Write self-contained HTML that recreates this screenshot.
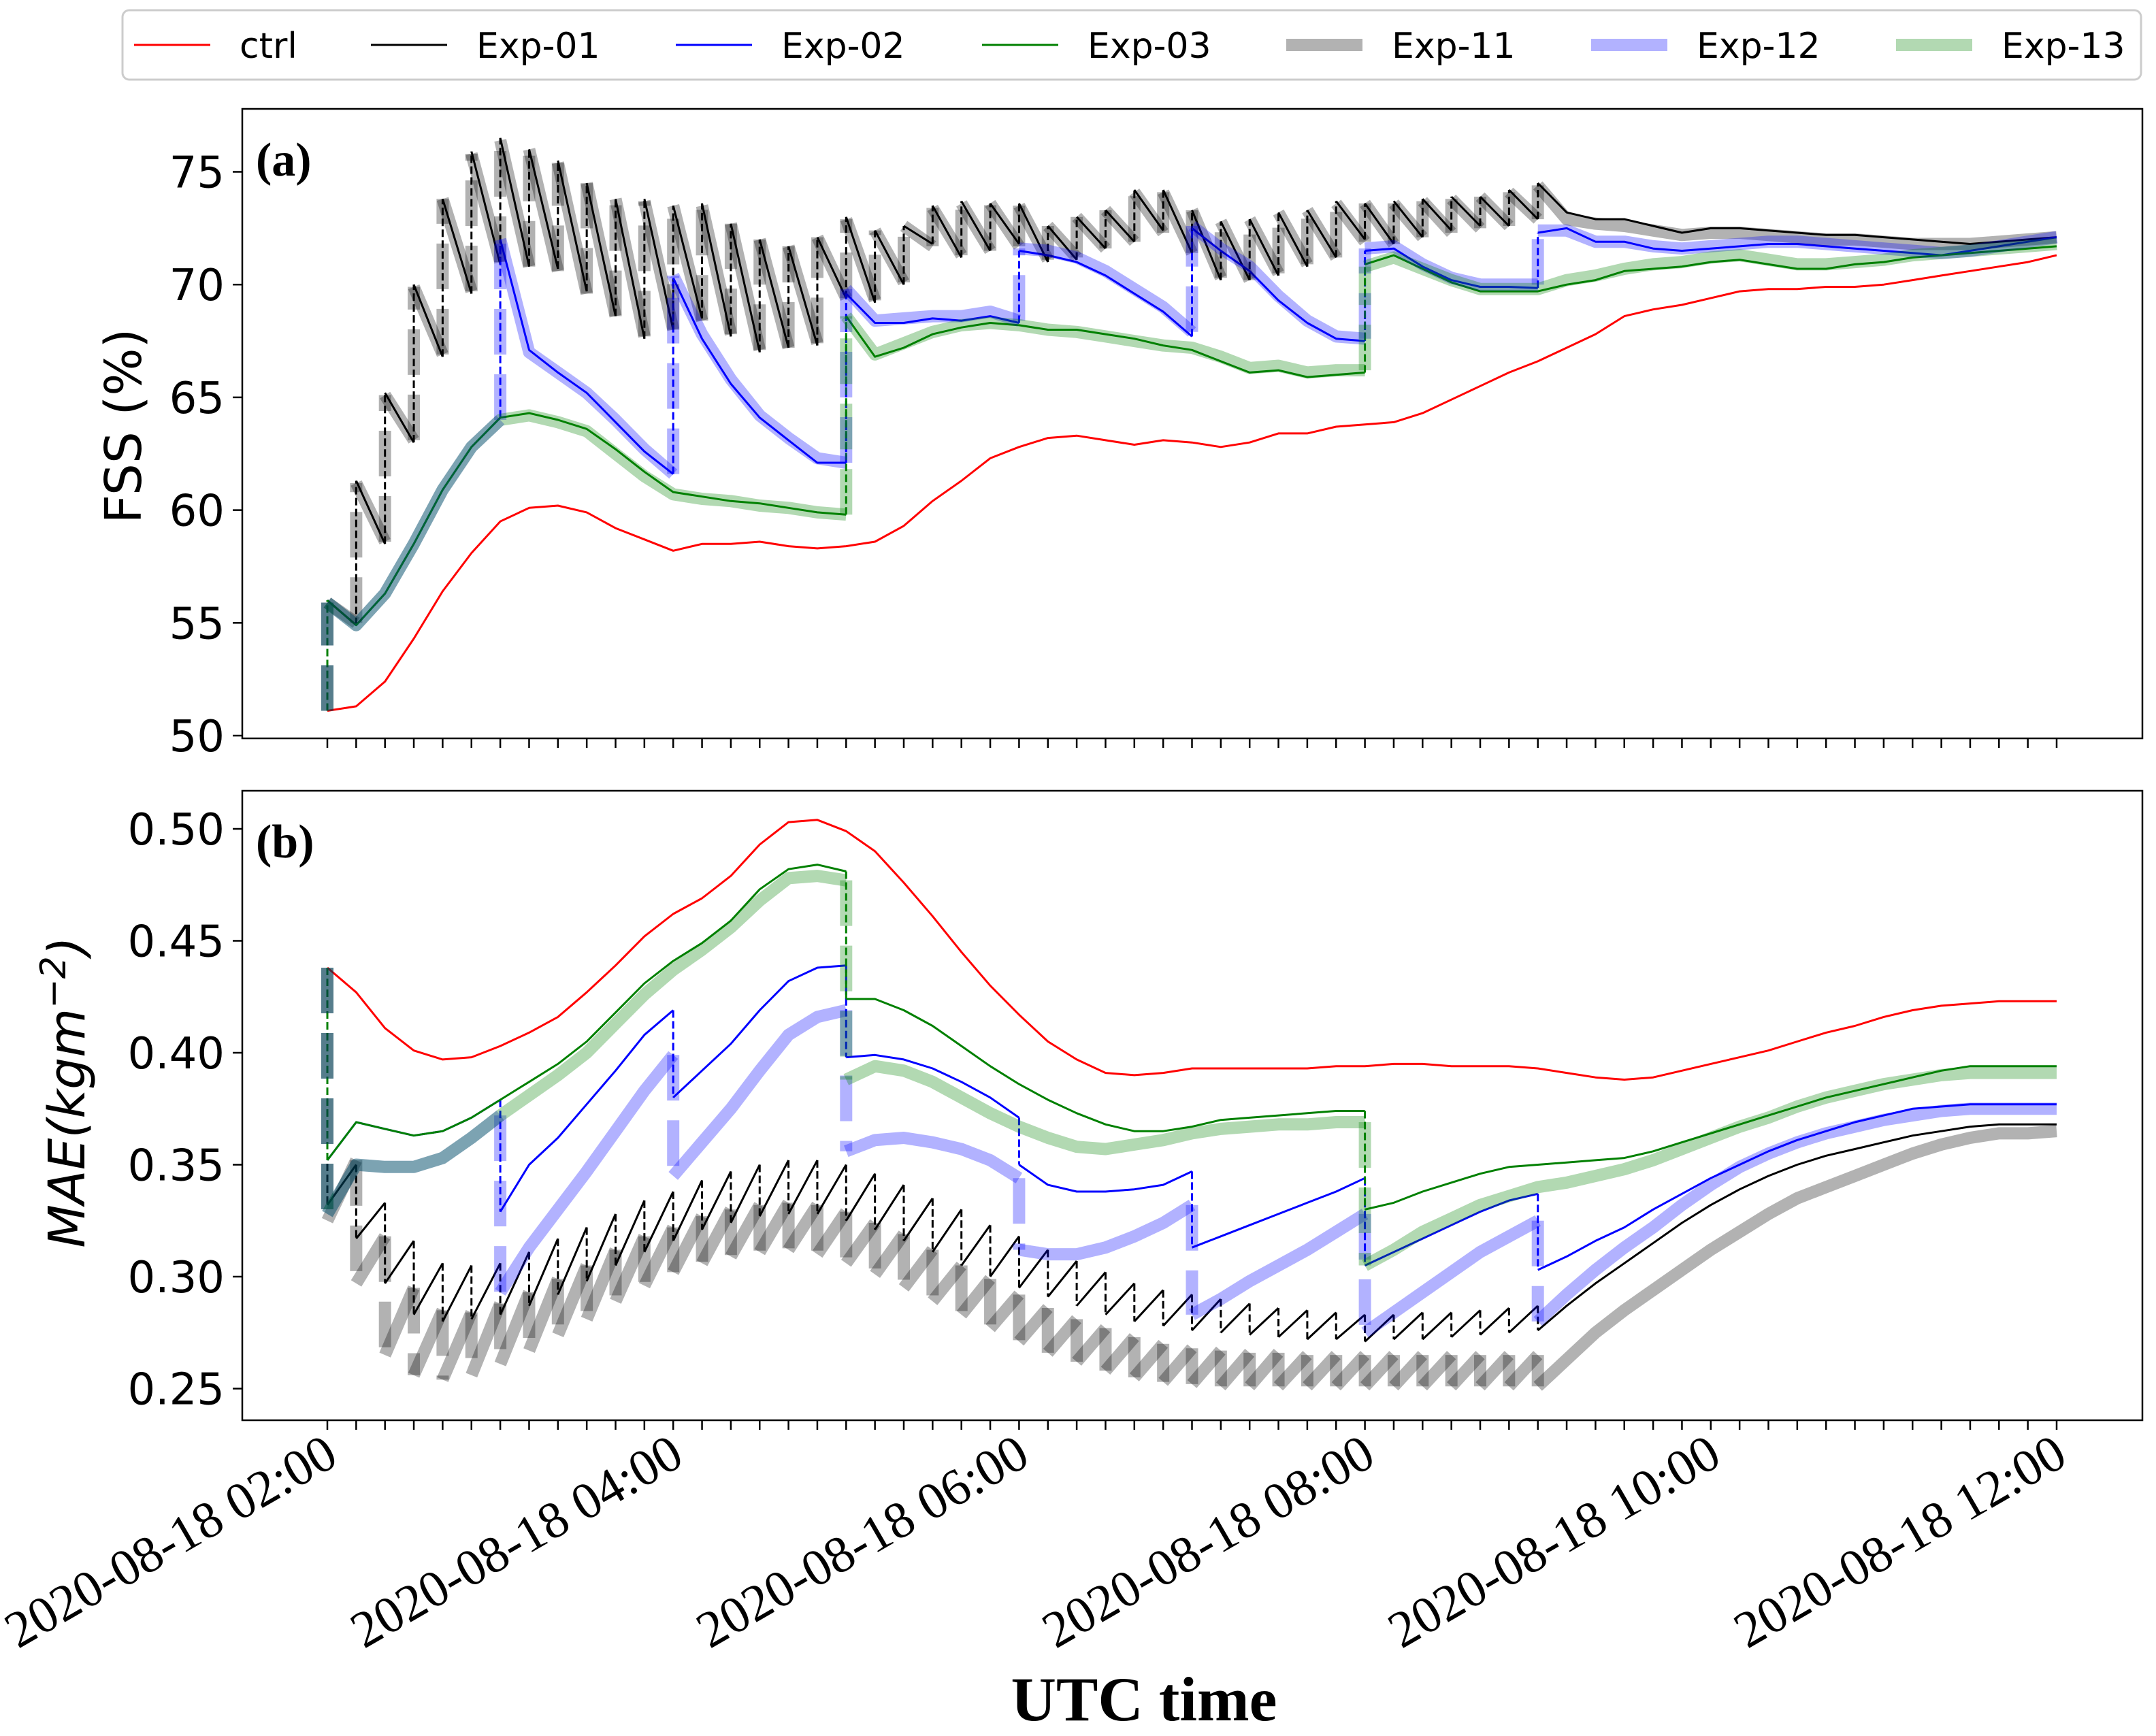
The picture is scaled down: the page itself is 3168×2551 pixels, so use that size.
<!DOCTYPE html>
<html><head><meta charset="utf-8"><style>
html,body{margin:0;padding:0;background:#fff;}
svg{display:block;}
</style></head><body>
<svg id="chart" xmlns="http://www.w3.org/2000/svg" width="3168" height="2551" viewBox="0 0 3168 2551">
<rect x="0" y="0" width="3168" height="2551" fill="#fff"/>
<defs>
<clipPath id="clipA"><rect x="356" y="160" width="2792" height="925"/></clipPath>
<clipPath id="clipB"><rect x="356" y="1162" width="2792" height="925"/></clipPath>
</defs>
<g id="panelA"></g>
<g id="panelB"></g>
<g id="legend"></g>
<text x="182" y="626" transform="rotate(-90 182 626)" text-anchor="middle" dominant-baseline="central" font-family="DejaVu Sans, Liberation Sans, sans-serif" font-size="74">FSS (%)</text>
<g transform="translate(124 1605) rotate(-90)">
<text x="0" y="0" text-anchor="middle" font-family="DejaVu Sans, Liberation Sans, sans-serif" font-size="74" font-style="italic">MAE(kgm<tspan font-size="52" baseline-shift="28">−2</tspan>)</text>
</g>
<text x="1681" y="2528" text-anchor="middle" font-family="Liberation Serif, serif" font-weight="bold" font-size="92">UTC time</text>
<text x="376" y="258" font-family="Liberation Serif, serif" font-weight="bold" font-size="70">(a)</text>
<text x="376" y="1260" font-family="Liberation Serif, serif" font-weight="bold" font-size="70">(b)</text>
</svg>
<script>
// ---------- data ----------
const xTickLabels = ["2020-08-18 02:00","2020-08-18 04:00","2020-08-18 06:00","2020-08-18 08:00","2020-08-18 10:00","2020-08-18 12:00"];
const fssTicks = [50,55,60,65,70,75];
const maeTicks = [0.25,0.30,0.35,0.40,0.45,0.50];
const maeTickLabels = ["0.25","0.30","0.35","0.40","0.45","0.50"];

const fssCtrl = [51.1,51.3,52.4,54.3,56.4,58.1,59.5,60.1,60.2,59.9,59.2,58.7,58.2,58.5,58.5,58.6,58.4,58.3,58.4,58.6,59.3,60.4,61.3,62.3,62.8,63.2,63.3,63.1,62.9,63.1,63.0,62.8,63.0,63.4,63.4,63.7,63.8,63.9,64.3,64.9,65.5,66.1,66.6,67.2,67.8,68.6,68.9,69.1,69.4,69.7,69.8,69.8,69.9,69.9,70.0,70.2,70.4,70.6,70.8,71.0,71.3];

const fssExp01 = [51.1,54.9,58.5,63.0,66.8,69.6,70.9,70.8,70.7,69.7,68.6,67.6,68.0,68.5,67.7,67.0,67.2,67.3,69.4,69.2,70.0,71.8,71.2,71.5,71.8,71.0,71.1,71.6,71.9,72.4,71.4,70.2,70.2,70.4,70.8,71.2,72.0,71.8,72.1,72.4,72.6,72.6,72.9,73.2,72.9,72.9,72.6,72.3,72.5,72.5,72.4,72.3,72.2,72.2,72.1,72.0,71.9,71.8,71.9,72.0,72.1];
const fssExp01UpdSteps = [0,1,2,3,4,5,6,7,8,9,10,11,12,13,14,15,16,17,18,19,20,21,22,23,24,25,26,27,28,29,30,31,32,33,34,35,36,37,38,39,40,41,42];
const fssExp01UpdVals = [56.0,61.3,65.2,70.0,73.8,75.9,76.5,76.0,75.5,74.5,73.8,73.8,73.5,73.6,72.7,72.0,71.7,72.1,73.0,72.4,72.6,73.5,73.7,73.6,73.6,72.6,73.0,73.3,74.2,74.2,73.3,72.8,72.9,73.2,73.3,73.7,73.6,73.7,73.8,73.9,73.9,74.2,74.5];

const fssExp02 = [51.1,54.9,56.3,58.5,60.9,62.8,64.1,67.1,66.1,65.2,63.9,62.6,61.6,67.6,65.6,64.1,63.1,62.1,62.1,68.3,68.3,68.5,68.4,68.6,68.3,71.3,71.0,70.4,69.6,68.8,67.7,71.5,70.6,69.3,68.3,67.6,67.5,71.6,70.8,70.2,69.9,69.9,69.85,72.5,71.9,71.9,71.6,71.5,71.6,71.7,71.8,71.8,71.7,71.6,71.5,71.4,71.3,71.5,71.7,71.9,72.1];
const fssExp02UpdSteps = [0,6,12,18,24,30,36,42];
const fssExp02UpdVals = [56.0,72.0,70.3,69.6,71.5,72.5,71.5,72.3];

const fssExp03 = [51.1,54.9,56.3,58.5,60.9,62.8,64.1,64.3,64.0,63.6,62.7,61.7,60.8,60.6,60.4,60.3,60.1,59.9,59.8,66.8,67.2,67.8,68.1,68.3,68.2,68.0,68.0,67.8,67.6,67.3,67.1,66.6,66.1,66.2,65.9,66.0,66.1,71.3,70.7,70.1,69.7,69.7,69.7,70.0,70.2,70.6,70.7,70.8,71.0,71.1,70.9,70.7,70.7,70.9,71.0,71.2,71.3,71.4,71.5,71.6,71.7];
const fssExp03UpdSteps = [0,18,36];
const fssExp03UpdVals = [56.0,68.6,70.9];

const fssExp11 = [51.1,55.0,58.6,63.1,66.9,69.7,71.0,70.8,70.6,69.6,68.6,67.7,68.0,68.4,67.8,67.1,67.2,67.4,69.4,69.3,70.1,71.7,71.3,71.5,71.7,71.1,71.2,71.6,71.9,72.3,71.4,70.3,70.2,70.5,70.9,71.2,71.9,71.8,72.1,72.3,72.5,72.6,72.9,72.9,72.7,72.6,72.4,72.2,72.3,72.3,72.2,72.1,72.0,72.0,71.9,71.8,71.8,71.8,71.9,72.0,72.1];
const fssExp11UpdSteps = [0,1,2,3,4,5,6,7,8,9,10,11,12,13,14,15,16,17,18,19,20,21,22,23,24,25,26,27,28,29,30,31,32,33,34,35,36,37,38,39,40,41,42];
const fssExp11UpdVals = [55.9,61.2,65.1,69.9,73.8,75.8,76.4,76.0,75.4,74.5,73.8,73.7,73.5,73.5,72.7,72.0,71.7,72.1,72.9,72.4,72.6,73.4,73.6,73.6,73.5,72.6,73.0,73.3,74.1,74.1,73.3,72.8,72.9,73.2,73.3,73.6,73.6,73.6,73.7,73.8,73.9,74.1,74.4];

const fssExp12 = [51.1,54.9,56.3,58.5,60.9,62.8,64.0,67.0,66.1,65.2,64.0,62.7,61.6,67.8,65.8,64.2,63.2,62.3,62.1,68.4,68.5,68.6,68.6,68.8,68.4,71.5,71.2,70.6,69.8,69.0,67.9,71.6,70.8,69.5,68.4,67.7,67.6,71.7,70.9,70.3,70.0,70.0,70.0,72.4,71.9,71.9,71.7,71.6,71.7,71.8,71.9,71.9,71.8,71.7,71.6,71.5,71.4,71.5,71.7,71.9,72.1];
const fssExp12UpdSteps = [0,6,12,18,24,30,36,42];
const fssExp12UpdVals = [55.9,72.0,70.4,69.8,71.6,72.6,71.6,72.4];

const fssExp13 = [51.1,54.9,56.3,58.5,60.9,62.8,64.0,64.2,63.9,63.5,62.5,61.5,60.7,60.5,60.4,60.2,60.1,59.9,59.8,66.9,67.4,67.9,68.2,68.3,68.2,68.0,67.9,67.7,67.5,67.3,67.2,66.8,66.3,66.4,66.1,66.2,66.2,71.2,70.7,70.2,69.8,69.8,69.8,70.2,70.4,70.7,70.9,71.0,71.2,71.3,71.1,70.9,70.9,71.0,71.1,71.3,71.4,71.5,71.6,71.7,71.8];
const fssExp13UpdSteps = [0,18,36];
const fssExp13UpdVals = [55.9,68.6,70.8];

const maeCtrl = [0.438,0.427,0.411,0.401,0.397,0.398,0.403,0.409,0.416,0.427,0.439,0.452,0.462,0.469,0.479,0.493,0.503,0.504,0.499,0.490,0.476,0.461,0.445,0.430,0.417,0.405,0.397,0.391,0.390,0.391,0.393,0.393,0.393,0.393,0.393,0.394,0.394,0.395,0.395,0.394,0.394,0.394,0.393,0.391,0.389,0.388,0.389,0.392,0.395,0.398,0.401,0.405,0.409,0.412,0.416,0.419,0.421,0.422,0.423,0.423,0.423];

const maeExp01 = [0.438,0.350,0.333,0.316,0.306,0.305,0.306,0.311,0.317,0.322,0.328,0.334,0.338,0.343,0.347,0.350,0.352,0.352,0.350,0.346,0.341,0.335,0.330,0.323,0.318,0.312,0.307,0.302,0.297,0.294,0.292,0.290,0.288,0.286,0.285,0.284,0.283,0.283,0.284,0.284,0.285,0.286,0.287,0.287,0.297,0.306,0.315,0.324,0.332,0.339,0.345,0.350,0.354,0.357,0.360,0.363,0.365,0.367,0.368,0.368,0.368];
const maeExp01UpdSteps = [0,1,2,3,4,5,6,7,8,9,10,11,12,13,14,15,16,17,18,19,20,21,22,23,24,25,26,27,28,29,30,31,32,33,34,35,36,37,38,39,40,41,42];
const maeExp01UpdVals = [0.332,0.317,0.297,0.283,0.280,0.281,0.283,0.287,0.292,0.298,0.305,0.311,0.316,0.321,0.324,0.327,0.328,0.328,0.325,0.321,0.316,0.311,0.305,0.300,0.295,0.291,0.287,0.283,0.280,0.278,0.276,0.275,0.274,0.273,0.272,0.272,0.271,0.272,0.272,0.273,0.274,0.275,0.276];

const maeExp02 = [0.438,0.369,0.366,0.363,0.365,0.371,0.379,0.350,0.362,0.377,0.392,0.408,0.419,0.392,0.404,0.419,0.432,0.438,0.439,0.399,0.397,0.393,0.387,0.380,0.371,0.341,0.338,0.338,0.339,0.341,0.347,0.318,0.323,0.328,0.333,0.338,0.344,0.311,0.317,0.323,0.329,0.334,0.337,0.309,0.316,0.322,0.330,0.337,0.344,0.350,0.356,0.361,0.365,0.369,0.372,0.375,0.376,0.377,0.377,0.377,0.377];
const maeExp02UpdSteps = [0,6,12,18,24,30,36,42];
const maeExp02UpdVals = [0.352,0.329,0.380,0.398,0.350,0.313,0.305,0.303];

const maeExp03 = [0.438,0.369,0.366,0.363,0.365,0.371,0.379,0.387,0.395,0.405,0.418,0.431,0.441,0.449,0.459,0.473,0.482,0.484,0.481,0.424,0.419,0.412,0.403,0.394,0.386,0.379,0.373,0.368,0.365,0.365,0.367,0.370,0.371,0.372,0.373,0.374,0.374,0.333,0.338,0.342,0.346,0.349,0.350,0.351,0.352,0.353,0.356,0.360,0.364,0.368,0.372,0.376,0.380,0.383,0.386,0.389,0.392,0.394,0.394,0.394,0.394];
const maeExp03UpdSteps = [0,18,36];
const maeExp03UpdVals = [0.352,0.424,0.330];

const maeExp11 = [0.438,0.352,0.318,0.295,0.285,0.284,0.288,0.293,0.299,0.305,0.312,0.318,0.322,0.327,0.330,0.332,0.333,0.332,0.329,0.324,0.319,0.312,0.305,0.299,0.292,0.286,0.281,0.277,0.273,0.270,0.268,0.267,0.266,0.266,0.265,0.265,0.265,0.265,0.265,0.265,0.265,0.265,0.265,0.263,0.275,0.285,0.294,0.303,0.312,0.320,0.328,0.335,0.340,0.345,0.350,0.355,0.359,0.362,0.364,0.364,0.365];
const maeExp11UpdSteps = [0,1,2,3,4,5,6,7,8,9,10,11,12,13,14,15,16,17,18,19,20,21,22,23,24,25,26,27,28,29,30,31,32,33,34,35,36,37,38,39,40,41,42];
const maeExp11UpdVals = [0.325,0.297,0.265,0.256,0.254,0.256,0.261,0.267,0.274,0.281,0.289,0.296,0.302,0.306,0.309,0.311,0.312,0.310,0.306,0.301,0.295,0.289,0.283,0.277,0.271,0.266,0.262,0.258,0.255,0.253,0.252,0.251,0.251,0.251,0.251,0.251,0.251,0.251,0.251,0.251,0.251,0.251,0.251];

const maeExp12 = [0.438,0.350,0.349,0.349,0.353,0.362,0.372,0.313,0.330,0.347,0.365,0.383,0.399,0.360,0.375,0.392,0.408,0.416,0.419,0.361,0.362,0.360,0.357,0.352,0.344,0.310,0.310,0.313,0.318,0.324,0.332,0.290,0.298,0.305,0.312,0.320,0.328,0.284,0.293,0.302,0.311,0.318,0.325,0.292,0.303,0.313,0.322,0.332,0.341,0.349,0.355,0.360,0.364,0.367,0.370,0.372,0.374,0.375,0.375,0.375,0.375];
const maeExp12UpdSteps = [0,6,12,18,24,30,36,42];
const maeExp12UpdVals = [0.328,0.293,0.345,0.356,0.312,0.283,0.275,0.280];

const maeExp13 = [0.438,0.350,0.349,0.349,0.353,0.362,0.372,0.381,0.390,0.400,0.413,0.426,0.437,0.446,0.456,0.468,0.478,0.479,0.477,0.394,0.392,0.387,0.380,0.373,0.367,0.362,0.358,0.357,0.359,0.361,0.364,0.366,0.367,0.368,0.368,0.369,0.369,0.312,0.320,0.326,0.332,0.336,0.340,0.342,0.345,0.348,0.352,0.357,0.362,0.367,0.371,0.376,0.380,0.383,0.386,0.388,0.390,0.391,0.391,0.391,0.391];
const maeExp13UpdSteps = [0,18,36];
const maeExp13UpdVals = [0.328,0.388,0.305];

const legendLabels = ["ctrl","Exp-01","Exp-02","Exp-03","Exp-11","Exp-12","Exp-13"];

// ---------- axes ----------
const NS = "http://www.w3.org/2000/svg";
const PL = 356, PR = 3148;
const A_TOP = 160, A_BOT = 1085, B_TOP = 1162, B_BOT = 2087;
const nSteps = 60;
function xs(i){ return 481 + i * (3022 - 481) / nSteps; }
function ya(v){ return 252.5 + (75 - v) * 33.14; }
function yb(v){ return 1218 + (0.5 - v) * 3290; }

function mk(tag, attrs, parent){
  const e = document.createElementNS(NS, tag);
  for (const k in attrs) e.setAttribute(k, attrs[k]);
  parent.appendChild(e);
  return e;
}

const COL = {ctrl:"#ff0000", e1:"#000000", e2:"#0000ff", e3:"#008000"};
const THIN = 3, THICK = 18;

function drawSeries(parent, clipId, yf, bg, updSteps, updVals, color, width, opacity, name){
  const g = mk("g", {"clip-path":"url(#" + clipId + ")"}, parent);
  
  
  const an = bg.slice();
  const isUpd = new Array(bg.length).fill(false);
  updSteps.forEach((s, k) => { an[s] = updVals[k]; isUpd[s] = true; });
  let d = "M" + xs(0).toFixed(1) + "," + yf(an[0]).toFixed(1);
  for (let i = 1; i < bg.length; i++){
    d += "L" + xs(i).toFixed(1) + "," + yf(bg[i]).toFixed(1);
    if (isUpd[i]) d += "M" + xs(i).toFixed(1) + "," + yf(an[i]).toFixed(1);
  }
  const p = mk("path", {d:d, fill:"none", stroke:color, "stroke-width":width, "stroke-opacity":opacity, "stroke-linejoin":"round", "stroke-linecap":"butt"}, g);
  
  
  const dash = width > 5 ? "67,29" : "11,5";
  for (let i = 0; i < bg.length; i++){
    if (!isUpd[i]) continue;
    const l = mk("line", {x1:xs(i), x2:xs(i), y1:yf(bg[i]), y2:yf(an[i]), stroke:color, "stroke-width":width, "stroke-opacity":opacity, "stroke-dasharray":dash}, g);
    
    
  }
}

function drawAxes(parent, top, bot, ticks, labels, yf, withXLabels, prefix){
  ticks.forEach((t, k) => {
    const y = yf(t);
    const tk = mk("line", {x1:PL-14, x2:PL, y1:y, y2:y, stroke:"#000", "stroke-width":2.5}, parent);
    
    
    const tx = mk("text", {x:PL-26, y:y+23, "text-anchor":"end", "font-family":"DejaVu Sans, Liberation Sans, sans-serif", "font-size":64}, parent);
    tx.textContent = labels[k];
    
    
  });
  for (let i = 0; i <= nSteps; i++){
    const tk = mk("line", {x1:xs(i), x2:xs(i), y1:bot, y2:bot+14, stroke:"#000", "stroke-width":2.5}, parent);
    
    
  }
  if (withXLabels){
    xTickLabels.forEach((lab, k) => {
      const x = xs(k * 12) + 19, y = bot + 63;
      const tx = mk("text", {x:x, y:y, "text-anchor":"end", transform:"rotate(-30 " + x + " " + y + ")", "font-family":"Liberation Serif, serif", "font-size":76}, parent);
      tx.textContent = lab;
      
      
    });
  }
}

function frame(parent, top, bot, prefix){
  const r = mk("rect", {x:PL, y:top, width:PR-PL, height:bot-top, fill:"none", stroke:"#000", "stroke-width":2.5}, parent);
  
  
}

const gA = document.getElementById("panelA");
const gB = document.getElementById("panelB");

drawAxes(gA, A_TOP, A_BOT, fssTicks, fssTicks.map(String), ya, false, "fss");
drawSeries(gA, "clipA", ya, fssCtrl, [], [], COL.ctrl, THIN, 1, "fss-ctrl");
drawSeries(gA, "clipA", ya, fssExp01, fssExp01UpdSteps, fssExp01UpdVals, COL.e1, THIN, 1, "fss-exp-01");
drawSeries(gA, "clipA", ya, fssExp02, fssExp02UpdSteps, fssExp02UpdVals, COL.e2, THIN, 1, "fss-exp-02");
drawSeries(gA, "clipA", ya, fssExp03, fssExp03UpdSteps, fssExp03UpdVals, COL.e3, THIN, 1, "fss-exp-03");
drawSeries(gA, "clipA", ya, fssExp11, fssExp11UpdSteps, fssExp11UpdVals, COL.e1, THICK, 0.3, "fss-exp-11");
drawSeries(gA, "clipA", ya, fssExp12, fssExp12UpdSteps, fssExp12UpdVals, COL.e2, THICK, 0.3, "fss-exp-12");
drawSeries(gA, "clipA", ya, fssExp13, fssExp13UpdSteps, fssExp13UpdVals, COL.e3, THICK, 0.3, "fss-exp-13");
frame(gA, A_TOP, A_BOT, "fss");

drawAxes(gB, B_TOP, B_BOT, maeTicks, maeTickLabels, yb, true, "mae");
drawSeries(gB, "clipB", yb, maeCtrl, [], [], COL.ctrl, THIN, 1, "mae-ctrl");
drawSeries(gB, "clipB", yb, maeExp01, maeExp01UpdSteps, maeExp01UpdVals, COL.e1, THIN, 1, "mae-exp-01");
drawSeries(gB, "clipB", yb, maeExp02, maeExp02UpdSteps, maeExp02UpdVals, COL.e2, THIN, 1, "mae-exp-02");
drawSeries(gB, "clipB", yb, maeExp03, maeExp03UpdSteps, maeExp03UpdVals, COL.e3, THIN, 1, "mae-exp-03");
drawSeries(gB, "clipB", yb, maeExp11, maeExp11UpdSteps, maeExp11UpdVals, COL.e1, THICK, 0.3, "mae-exp-11");
drawSeries(gB, "clipB", yb, maeExp12, maeExp12UpdSteps, maeExp12UpdVals, COL.e2, THICK, 0.3, "mae-exp-12");
drawSeries(gB, "clipB", yb, maeExp13, maeExp13UpdSteps, maeExp13UpdVals, COL.e3, THICK, 0.3, "mae-exp-13");
frame(gB, B_TOP, B_BOT, "mae");

// ---------- legend ----------
const gL = document.getElementById("legend");
const box = mk("rect", {x:180, y:15, width:2966, height:102, rx:10, fill:"#fff", stroke:"#cccccc", "stroke-width":3}, gL);


const legColors = [COL.ctrl, COL.e1, COL.e2, COL.e3, COL.e1, COL.e2, COL.e3];
const legX = [197, 545, 993, 1443, 1890, 2338, 2786];
legendLabels.forEach((lab, k) => {
  const thick = k >= 4;
  const g = mk("g", {}, gL);
  
  
  const ln = mk("line", {x1:legX[k], x2:legX[k]+112, y1:66, y2:66, stroke:legColors[k], "stroke-width": thick ? THICK : THIN, "stroke-opacity": thick ? 0.3 : 1}, g);
  
  
  const tx = mk("text", {x:legX[k]+155, y:85, "font-family":"DejaVu Sans, Liberation Sans, sans-serif", "font-size":52}, g);
  tx.textContent = lab;
  
  
});
</script>
</body></html>
